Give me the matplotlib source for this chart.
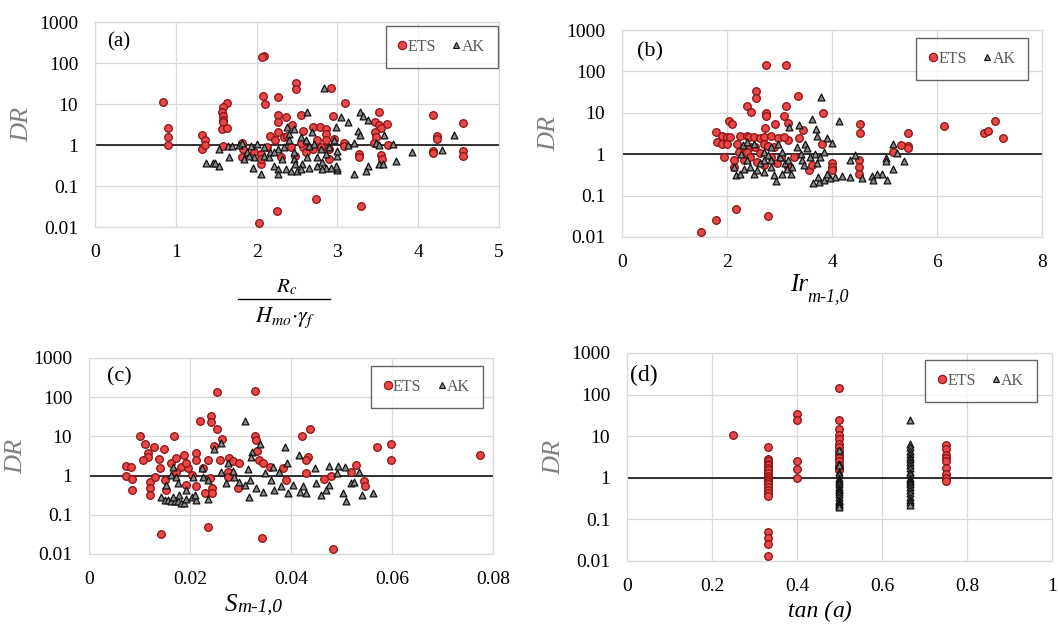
import numpy as np
import matplotlib
matplotlib.use('Agg')
import matplotlib.pyplot as plt
from matplotlib.lines import Line2D

plt.rcParams['font.family'] = ['Liberation Serif', 'DejaVu Serif']
plt.rcParams['mathtext.fontset'] = 'stix'

# ---- donnees : (x, DR) ----
# (a) Rc / (Hmo.gamma_f)
ets_a_x = [0.84, 0.90, 0.90, 0.90, 1.33, 1.36, 1.33, 1.36, 1.63, 1.58, 1.57, 1.58, 1.58, 1.58,
           1.57, 1.63, 1.58, 2.09, 2.07, 2.08, 2.10, 2.27, 2.49, 2.49, 2.92, 3.10, 2.26, 2.27,
           2.36, 2.55, 2.94, 3.51, 4.18, 4.55, 3.62, 3.46, 3.52, 3.54, 3.46, 3.48, 3.45, 3.63,
           3.54, 3.55, 3.27, 3.27, 4.23, 4.23, 4.18, 4.18, 4.55, 4.55, 2.70, 2.79, 2.86, 2.86,
           2.58, 2.44, 2.26, 2.17, 2.34, 2.03, 2.25, 2.73, 3.29, 1.82, 1.83, 1.82, 2.05, 2.13,
           2.42, 2.57, 2.70, 2.90, 2.90, 3.08, 3.08, 2.96, 2.86, 2.38, 2.55, 2.23, 1.97, 2.05,
           2.05, 2.30, 2.48, 2.61, 2.75, 2.80]
ets_a_y = [11, 2.6, 1.6, 1.0, 1.75, 1.3, 0.8, 1.0, 10.6, 8.3, 6.5, 5.2, 4.0, 3.6,
           2.5, 2.55, 0.93, 148, 143, 15.5, 10, 15, 33, 23.5, 25, 10.6, 5.5, 3.6,
           4.7, 5.5, 5.2, 6.3, 5.4, 3.45, 3.3, 3.6, 3.0, 2.6, 2.1, 1.6, 1.15, 1.0,
           0.57, 0.45, 0.6, 0.5, 1.7, 1.4, 0.73, 0.65, 0.73, 0.55, 2.8, 2.8, 2.5, 1.85,
           2.25, 3.0, 2.1, 1.7, 1.55, 0.0128, 0.025, 0.047, 0.032, 1.15, 0.8, 0.5, 0.34, 0.88,
           0.88, 0.88, 0.8, 0.8, 0.45, 1.15, 0.95, 1.4, 1.3, 1.7, 1.15, 1.3, 0.66, 0.6,
           0.45, 0.5, 0.55, 0.66, 1.3, 0.88]
ak_a_x = [2.83, 2.63, 3.28, 3.32, 3.05, 3.38, 3.13, 2.98, 3.25, 3.28, 3.58, 4.44, 3.48, 3.51,
          3.69, 3.13, 3.21, 4.29, 3.92, 3.73, 3.51, 3.57, 3.38, 3.35, 3.20, 3.00, 3.00, 2.98,
          2.99, 3.00, 1.37, 1.46, 1.49, 1.53, 1.53, 1.66, 1.64, 1.70, 1.78, 1.82, 1.93, 1.88,
          1.84, 1.95, 2.05, 2.01, 2.09, 2.09, 2.15, 2.17, 2.22, 2.26, 2.27, 2.34, 2.32, 2.38,
          2.40, 2.40, 2.46, 2.46, 2.36, 2.42, 2.50, 2.48, 2.56, 2.55, 2.61, 2.65, 2.63, 2.65,
          2.69, 2.71, 2.75, 2.75, 2.81, 2.86, 2.86, 2.92, 2.90, 2.80, 2.81, 2.55, 2.46, 2.26,
          2.22, 1.97, 1.91, 2.96]
ak_a_y = [25, 6.5, 6.5, 5.2, 4.7, 4.1, 3.6, 2.8, 2.2, 1.8, 1.8, 1.8, 1.15, 1.0,
          1.05, 1.0, 1.15, 0.77, 0.66, 0.41, 0.34, 0.34, 0.3, 0.23, 0.2, 0.24, 0.28, 0.31,
          0.55, 0.73, 0.36, 0.36, 0.36, 0.31, 0.8, 0.5, 0.93, 0.93, 1.0, 1.1, 0.93, 0.66,
          0.45, 0.28, 0.2, 1.05, 0.88, 0.55, 0.5, 0.66, 0.3, 0.26, 0.2, 0.88, 0.45, 2.7,
          1.85, 1.3, 0.66, 0.45, 0.26, 0.23, 0.23, 0.34, 0.34, 1.55, 1.3, 0.95, 0.5, 0.28,
          2.05, 1.05, 0.5, 0.3, 0.38, 0.28, 0.6, 0.28, 0.88, 0.8, 0.26, 0.26, 2.5, 0.8,
          0.66, 0.5, 0.55, 1.3]

# (b) Ir m-1,0
ets_b_x = [1.51, 1.79, 2.17, 2.78, 2.75, 3.13, 3.35, 2.55, 2.55, 2.38, 2.45, 3.13, 2.75, 2.75,
           3.08, 3.83, 2.03, 2.10, 2.92, 3.17, 2.72, 4.54, 4.54, 6.13, 7.10, 6.89, 6.97, 7.25,
           5.45, 5.45, 5.45, 5.32, 5.16, 4.51, 4.51, 4.51, 4.00, 4.00, 4.00, 3.81, 1.79, 3.45,
           3.37, 3.17, 3.56, 3.62, 1.94, 2.13, 2.13, 1.81, 1.90, 2.00, 2.06, 1.90, 2.00, 2.19,
           2.25, 2.38, 2.41, 2.51, 2.63, 2.70, 2.83, 2.98, 3.08, 2.32, 2.44, 2.54, 2.70, 2.79,
           2.89, 2.22, 2.38, 2.44, 2.63, 2.83, 3.02, 2.32, 2.57, 2.70, 2.95, 3.17, 3.27]
ets_b_y = [0.0134, 0.026, 0.048, 0.033, 145, 140, 25, 34, 23, 15, 10.5, 15, 10, 8.3,
           8.3, 10, 6.3, 5.5, 5.5, 5.7, 4.3, 5.3, 3.3, 4.7, 6.3, 3.3, 3.6, 2.5,
           3.3, 1.6, 1.4, 1.7, 1.15, 0.72, 0.5, 0.34, 0.6, 0.5, 0.41, 1.8, 3.5, 3.8,
           2.4, 2.2, 0.41, 0.54, 0.86, 0.5, 0.72, 2.0, 2.8, 2.6, 2.6, 1.8, 1.8, 1.8,
           2.8, 2.8, 2.6, 2.6, 2.4, 2.6, 2.8, 2.4, 2.6, 1.5, 1.5, 1.5, 1.8, 1.6,
           1.5, 1.15, 1.15, 0.86, 1.05, 0.86, 0.86, 0.72, 0.65, 0.54, 0.6, 0.5, 0.86]
ak_b_x = [3.79, 3.62, 4.13, 3.38, 3.19, 3.70, 3.72, 3.90, 4.00, 5.16, 5.24, 5.02, 5.02, 5.38,
          5.17, 4.44, 4.35, 5.05, 4.95, 4.86, 4.76, 4.57, 4.79, 4.34, 4.19, 4.06, 3.97, 3.84,
          3.75, 3.64, 3.73, 3.90, 2.18, 2.24, 2.32, 2.30, 2.27, 2.38, 2.44, 2.51, 2.57, 2.52,
          2.63, 2.70, 2.70, 2.78, 2.83, 2.83, 2.89, 2.94, 2.98, 3.00, 3.05, 3.05, 3.11, 3.14,
          3.17, 3.21, 3.24, 3.33, 3.40, 3.43, 3.46, 3.49, 3.52, 3.59, 3.68, 3.71, 3.78, 3.84,
          2.38, 2.83, 2.70, 2.13]
ak_b_y = [24, 6.9, 6.3, 5.2, 4.6, 4.0, 2.7, 2.4, 1.9, 1.8, 1.04, 0.79, 0.69, 0.69,
          0.43, 0.95, 0.72, 0.24, 0.34, 0.33, 0.3, 0.26, 0.24, 0.28, 0.3, 0.28, 0.26, 0.24,
          0.215, 0.2, 0.28, 0.34, 0.31, 0.34, 0.45, 1.65, 1.03, 0.72, 0.5, 0.34, 0.41, 1.8,
          0.6, 0.38, 1.15, 0.95, 1.5, 0.5, 0.31, 0.22, 1.8, 0.86, 1.15, 0.34, 0.6, 0.45,
          0.72, 0.34, 0.5, 1.5, 1.03, 0.72, 0.54, 1.8, 1.4, 0.86, 1.03, 0.6, 0.86, 1.15,
          2.0, 0.72, 0.72, 0.5]

# (c) S m-1,0
ets_c_x = [0.0483, 0.0342, 0.0236, 0.0142, 0.0253, 0.0328, 0.0220, 0.0242, 0.0242, 0.0253,
           0.0437, 0.0422, 0.0328, 0.0330, 0.0264, 0.0102, 0.0169, 0.0110, 0.0129, 0.0148,
           0.0247, 0.0571, 0.0598, 0.0598, 0.0775, 0.0117, 0.0117, 0.0107, 0.0138, 0.0333,
           0.0336, 0.0344, 0.0433, 0.0429, 0.0430, 0.0528, 0.0518, 0.0466, 0.0480, 0.0544,
           0.0546, 0.0074, 0.0084, 0.0073, 0.0086, 0.0086, 0.0120, 0.0121, 0.0121, 0.0131,
           0.0140, 0.0150, 0.0153, 0.0163, 0.0173, 0.0183, 0.0188, 0.0196, 0.0193, 0.0203,
           0.0211, 0.0212, 0.0212, 0.0226, 0.0229, 0.0236, 0.0239, 0.0243, 0.0243, 0.0259,
           0.0278, 0.0285, 0.0275, 0.0275, 0.0295, 0.0298, 0.0193, 0.0173, 0.0358, 0.0384,
           0.0390]
ets_c_y = [0.0132, 0.025, 0.049, 0.033, 138, 145, 25, 33, 23, 15,
           15, 10.3, 10.3, 8.1, 8.5, 10.3, 10.3, 6.3, 5.3, 4.7,
           5.7, 5.5, 6.3, 2.5, 3.4, 3.7, 3.0, 2.5, 2.6, 4.3,
           2.5, 2.1, 3.0, 2.5, 1.15, 1.9, 1.26, 0.8, 1.0, 0.74,
           0.53, 1.8, 1.7, 1.0, 0.8, 0.43, 0.7, 0.48, 0.32, 0.94,
           1.55, 0.77, 0.43, 2.1, 2.8, 1.7, 3.4, 1.55, 0.58, 1.04,
           3.7, 2.5, 0.53, 1.55, 0.35, 2.5, 0.85, 0.48, 0.35, 2.5,
           2.8, 2.3, 1.26, 0.94, 0.48, 2.1, 2.1, 1.26, 1.7, 1.55,
           0.77]
ak_c_x = [0.0308, 0.0262, 0.0247, 0.0338, 0.0389, 0.0323, 0.0320, 0.0415, 0.0392, 0.0447,
          0.0476, 0.0493, 0.0506, 0.0534, 0.0491, 0.0563, 0.0509, 0.0519, 0.0524, 0.0503,
          0.0540, 0.0476, 0.0470, 0.0460, 0.0450, 0.0423, 0.0417, 0.0429, 0.0404, 0.0394,
          0.0381, 0.0367, 0.0361, 0.0376, 0.0364, 0.0348, 0.0344, 0.0331, 0.0318, 0.0315,
          0.0308, 0.0317, 0.0298, 0.0288, 0.0285, 0.0275, 0.0262, 0.0272, 0.0236, 0.0236,
          0.0224, 0.0142, 0.0150, 0.0156, 0.0163, 0.0170, 0.0176, 0.0183, 0.0189, 0.0193,
          0.0203, 0.0212, 0.0209, 0.0179, 0.0166, 0.0153, 0.0163, 0.0166, 0.0173, 0.0176,
          0.0193, 0.0206, 0.0226]
ak_c_y = [24, 6.7, 4.7, 6.4, 5.5, 3.9, 2.9, 3.4, 2.1, 1.6,
          1.8, 1.8, 1.7, 1.26, 1.15, 0.35, 0.22, 0.64, 0.7, 0.35,
          0.32, 0.58, 0.43, 0.32, 0.64, 0.53, 0.39, 0.35, 0.58, 0.35,
          0.53, 0.43, 0.77, 1.26, 1.7, 1.15, 0.39, 0.48, 0.77, 1.45,
          0.58, 0.29, 0.7, 0.94, 1.34, 2.1, 1.26, 0.64, 0.26, 0.77,
          1.55, 0.29, 0.24, 0.24, 0.22, 0.22, 0.22, 0.2, 0.2, 0.26,
          0.29, 0.24, 0.32, 0.32, 0.29, 0.58, 1.04, 1.7, 0.94, 0.64,
          0.43, 0.94, 0.94]

# (d) tan(a)
ets_d_x = [0.25] + [0.333] * 21 + [0.4] * 5 + [0.5] * 14 + [0.75] * 9
ets_d_y = [10.5,
           5.4, 2.8, 2.5, 2.2, 2.0, 1.7, 1.5, 1.3, 1.1, 1.0, 0.9, 0.8, 0.7, 0.6, 0.5, 0.42, 0.37,
           0.049, 0.036, 0.025, 0.013,
           34, 24, 2.5, 1.6, 1.0,
           145, 25, 15, 10.5, 8.5, 6.5, 5.5, 4.5, 3.5, 3.0, 2.5, 2.0, 1.7, 1.5,
           6.3, 5.0, 3.5, 3.0, 2.5, 1.7, 1.2, 1.0, 0.85]
ak_d_x = [0.5] * 21 + [0.667] * 23
ak_d_y = [4.7, 2.2, 2.0, 1.4, 1.2, 1.0, 0.9, 0.8, 0.7, 0.6, 0.55, 0.5, 0.45, 0.4, 0.35, 0.3,
          0.28, 0.26, 0.24, 0.22, 0.2,
          24, 6.5, 5.5, 4.5, 3.8, 3.2, 2.8, 2.4, 2.0, 1.7, 1.4, 1.2, 1.0, 0.9, 0.8, 0.7, 0.6,
          0.5, 0.42, 0.35, 0.3, 0.26, 0.22]

dr_ticks = [0.01, 0.1, 1, 10, 100, 1000]
dr_labels = ['0.01', '0.1', '1', '10', '100', '1000']

panels = [
    # (rect, lettre, pos lettre, taille lettre, ancre legende, x ets, y ets, x ak, y ak,
    #  xlim, xticks, xticklabels)
    ([0.0898, 0.6362, 0.3818, 0.3285], '(a)', (0.03, 0.905), 15, (0.997, 0.98),
     ets_a_x, ets_a_y, ak_a_x, ak_a_y,
     (0, 5), [0, 1, 2, 3, 4, 5], ['0', '1', '2', '3', '4', '5']),
    ([0.5879, 0.6202, 0.3970, 0.3317], '(b)', (0.036, 0.894), 16, (0.967, 0.961),
     ets_b_x, ets_b_y, ak_b_x, ak_b_y,
     (0, 8), [0, 2, 4, 6, 8], ['0', '2', '4', '6', '8']),
    ([0.0841, 0.1122, 0.3819, 0.3141], '(c)', (0.045, 0.903), 16, (0.975, 0.959),
     ets_c_x, ets_c_y, ak_c_x, ak_c_y,
     (0, 0.08), [0, 0.02, 0.04, 0.06, 0.08], ['0', '0.02', '0.04', '0.06', '0.08']),
    ([0.5926, 0.1010, 0.4017, 0.3333], '(d)', (0.007, 0.894), 17, (0.965, 0.966),
     ets_d_x, ets_d_y, ak_d_x, ak_d_y,
     (0, 1), [0, 0.2, 0.4, 0.6, 0.8, 1], ['0', '0.2', '0.4', '0.6', '0.8', '1']),
]

fig = plt.figure(figsize=(10.58, 6.24), dpi=100)

for rect, lettre, lpos, lsize, anchor, ex, ey, kx, ky, xlim, xt, xtl in panels:
    ax = fig.add_axes(rect)
    ax.set_yscale('log')
    ax.set_ylim(0.01, 1000)
    ax.set_xlim(*xlim)
    ax.set_yticks(dr_ticks)
    ax.set_yticklabels(dr_labels)
    ax.minorticks_off()
    ax.set_xticks(xt)
    ax.set_xticklabels(xtl)
    ax.tick_params(length=0, labelsize=14, pad=12)
    ax.grid(True, color='#d9d9d9', lw=0.9)
    ax.set_axisbelow(True)
    for s in ax.spines.values():
        s.set_color('#d9d9d9')
        s.set_linewidth(0.9)

    # ligne DR = 1
    ax.axhline(1, color='#222222', lw=1.3, zorder=2)

    ax.scatter(ex, ey, s=30, marker='o', facecolor='#e8474a', edgecolor='#8b1010',
               linewidth=0.9, zorder=3)
    ax.scatter(kx, ky, s=24, marker='^', facecolor='#8a8a8a', edgecolor='#111111',
               linewidth=0.9, zorder=4)

    ax.text(lpos[0], lpos[1], lettre, transform=ax.transAxes, fontsize=lsize, va='center')
    ax.set_ylabel('DR', fontsize=19, style='italic', color='#808080', labelpad=4)

    handles = [Line2D([], [], ls='', marker='o', ms=6, mfc='#e8474a', mec='#8b1010', mew=0.8),
               Line2D([], [], ls='', marker='^', ms=5, mfc='#8a8a8a', mec='#111111', mew=0.8)]
    leg = ax.legend(handles, ['ETS', 'AK'], ncol=2, loc='upper right',
                    bbox_to_anchor=anchor, borderaxespad=0, fontsize=11.5, frameon=True,
                    fancybox=False, borderpad=0.8, handletextpad=0.1,
                    columnspacing=1.0, handlelength=0.5, labelcolor='#595959')
    leg.get_frame().set_edgecolor('#404040')
    leg.get_frame().set_linewidth(1.0)

# etiquettes des axes x
fig.text(287 / 1058, 1 - 287 / 624, '$R_c$', fontsize=15, ha='center', va='center')
fig.add_artist(Line2D([238 / 1058, 330 / 1058], [1 - 299 / 624, 1 - 299 / 624],
                      color='black', lw=1.0))
fig.text(285 / 1058, 1 - 318 / 624, r'$H_{mo}{\cdot}\gamma_f$', fontsize=16,
         ha='center', va='center')

fig.text(790 / 1058, 1 - 285 / 624, 'Ir', fontsize=18, style='italic',
         ha='left', va='center')
fig.text(807 / 1058, 1 - 297 / 624, 'm-1,0', fontsize=13, style='italic',
         ha='left', va='center')

fig.text(237 / 1058, 1 - 611 / 624, 'S', fontsize=18, style='italic',
         ha='right', va='baseline')
fig.text(237 / 1058, 1 - 611 / 624, 'm-1,0', fontsize=14, style='italic',
         ha='left', va='baseline')

fig.text(832 / 1058, 1 - 611 / 624, 'tan (', fontsize=17, style='italic',
         ha='right', va='center')
fig.text(832 / 1058, 1 - 611 / 624, 'a)', fontsize=17, style='italic',
         ha='left', va='center')

fig.savefig('out.png', dpi=100)
